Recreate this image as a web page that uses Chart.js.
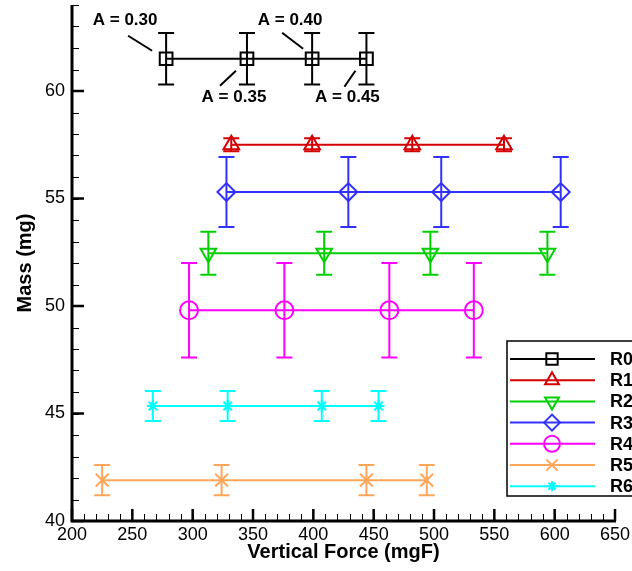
<!DOCTYPE html>
<html>
<head>
<meta charset="utf-8">
<script src="https://cdn.jsdelivr.net/npm/chart.js@4.4.1/dist/chart.umd.min.js"></script>
<style>
  html, body { margin: 0; padding: 0; background: #fff; overflow: hidden; }
  canvas { display: block; }
</style>
</head>
<body>
<canvas id="mass-chart" width="632" height="571"></canvas>
<script>
// Data
const seriesNames = ['R0', 'R1', 'R2', 'R3', 'R4', 'R5', 'R6'];
const r0Force = [278, 345, 399, 444];
const r1Force = [332, 399, 482, 558];
const r2Force = [313, 409, 497, 594];
const r3Force = [328, 429, 506, 605];
const r4Force = [297, 376, 463, 533];
const r5Force = [225, 324, 444, 494];
const r6Force = [267, 329, 407, 454];
const massValues = [61.5, 57.5, 52.45, 55.3, 49.8, 41.9, 45.35];   // mg, one per series
const massErrors = [1.2, 0.3, 1.0, 1.63, 2.2, 0.7, 0.7];           // +/- mg
const xTickValues = [200, 250, 300, 350, 400, 450, 500, 550, 600, 650];
const yTickValues = [40, 45, 50, 55, 60];
const angleLabels = ['A = 0.30', 'A = 0.35', 'A = 0.40', 'A = 0.45'];

const forces = [r0Force, r1Force, r2Force, r3Force, r4Force, r5Force, r6Force];

// look of each series
const seriesColors = ['#000000', '#d40000', '#00d000', '#3232ff', '#ff00ff', '#ffa65a', '#00ffff'];
const seriesMarkers = [
    { style: 'rect', rotation: 0, radius: 9 },
    { style: 'triangle', rotation: 0, radius: 9 },
    { style: 'triangle', rotation: 180, radius: 9 },
    { style: 'rectRot', rotation: 0, radius: 9 },
    { style: 'circle', rotation: 0, radius: 9 },
    { style: 'crossRot', rotation: 0, radius: 9 },
    { style: 'star', rotation: 0, radius: 6 }
];

const FONT = "'Liberation Sans', Arial, Helvetica, sans-serif";
Chart.defaults.font.family = FONT;
Chart.defaults.color = '#000';

const datasets = seriesNames.map((name, i) => ({
    label: name,
    data: forces[i].map(f => ({ x: f, y: massValues[i], err: massErrors[i] })),
    showLine: true,
    borderColor: seriesColors[i],
    borderWidth: 2,
    pointStyle: seriesMarkers[i].style,
    rotation: seriesMarkers[i].rotation,
    pointRadius: seriesMarkers[i].radius,
    pointBorderWidth: 2,
    pointBorderColor: seriesColors[i],
    pointBackgroundColor: 'rgba(0,0,0,0)'
}));

// vertical error bars with caps
const errorBars = {
    id: 'errorBars',
    afterDatasetsDraw(chart) {
        const ctx = chart.ctx;
        const xs = chart.scales.x, ys = chart.scales.y;
        chart.data.datasets.forEach(ds => {
            ctx.save();
            ctx.strokeStyle = ds.borderColor;
            ctx.lineWidth = 2;
            ds.data.forEach(pt => {
                const px = xs.getPixelForValue(pt.x);
                const top = ys.getPixelForValue(pt.y + pt.err);
                const bot = ys.getPixelForValue(pt.y - pt.err);
                ctx.beginPath();
                ctx.moveTo(px, top); ctx.lineTo(px, bot);
                ctx.moveTo(px - 8, top); ctx.lineTo(px + 8, top);
                ctx.moveTo(px - 8, bot); ctx.lineTo(px + 8, bot);
                ctx.stroke();
            });
            ctx.restore();
        });
    }
};

// axis lines with inward ticks (tecplot style)
const frameAxes = {
    id: 'frameAxes',
    afterDatasetsDraw(chart) {
        const ctx = chart.ctx;
        const xs = chart.scales.x, ys = chart.scales.y;
        const { left, right, top, bottom } = chart.chartArea;
        ctx.save();
        ctx.strokeStyle = '#000';
        // minor ticks
        ctx.lineWidth = 1;
        ctx.beginPath();
        for (let v = xs.min; v <= xs.max; v += 10) {
            const px = Math.round(xs.getPixelForValue(v)) + 0.5;
            ctx.moveTo(px, bottom); ctx.lineTo(px, bottom - 7);
        }
        for (let v = ys.min; v <= ys.max; v += 1) {
            const py = Math.round(ys.getPixelForValue(v)) + 0.5;
            ctx.moveTo(left, py); ctx.lineTo(left + 7, py);
        }
        ctx.stroke();
        // major ticks
        ctx.lineWidth = 2.5;
        ctx.beginPath();
        xTickValues.forEach(v => {
            const px = xs.getPixelForValue(v);
            ctx.moveTo(px, bottom); ctx.lineTo(px, bottom - 12);
        });
        yTickValues.forEach(v => {
            const py = ys.getPixelForValue(v);
            ctx.moveTo(left, py); ctx.lineTo(left + 12, py);
        });
        ctx.stroke();
        // axis lines
        ctx.lineWidth = 3;
        ctx.beginPath();
        ctx.moveTo(left, top); ctx.lineTo(left, bottom);
        ctx.lineTo(right + 1, bottom);
        ctx.stroke();
        ctx.restore();
    }
};

// "A = ..." callouts hung on the R0 points
const calloutOffsets = [
    { tx: -41, ty: -38, x1: -38, y1: -23, x2: -14, y2: -8 },
    { tx: -13, ty: 39, x1: -27, y1: 27, x2: -11, y2: 12 },
    { tx: -22, ty: -38, x1: -30, y1: -26, x2: -9, y2: -10 },
    { tx: -19, ty: 39, x1: -22, y1: 28, x2: -11, y2: 12 }
];
const callouts = {
    id: 'callouts',
    afterDatasetsDraw(chart) {
        const ctx = chart.ctx;
        const xs = chart.scales.x, ys = chart.scales.y;
        ctx.save();
        ctx.fillStyle = '#000';
        ctx.strokeStyle = '#000';
        ctx.lineWidth = 2;
        ctx.font = 'bold 17px ' + FONT;
        ctx.textAlign = 'center';
        ctx.textBaseline = 'middle';
        angleLabels.forEach((txt, i) => {
            const px = xs.getPixelForValue(r0Force[i]);
            const py = ys.getPixelForValue(massValues[0]);
            const o = calloutOffsets[i];
            ctx.fillText(txt, px + o.tx, py + o.ty);
            ctx.beginPath();
            ctx.moveTo(px + o.x1, py + o.y1);
            ctx.lineTo(px + o.x2, py + o.y2);
            ctx.stroke();
        });
        ctx.restore();
    }
};

// boxed legend sitting over the lower right, running off the canvas edge
const boxLegend = {
    id: 'boxLegend',
    afterDraw(chart) {
        const ctx = chart.ctx;
        const boxX = 507, boxY = 341, rowY0 = 359, rowStep = 21.2;
        ctx.save();
        ctx.fillStyle = '#fff';
        ctx.fillRect(boxX, boxY, 200, 155);
        ctx.strokeStyle = '#000';
        ctx.lineWidth = 1.5;
        ctx.strokeRect(boxX, boxY, 200, 155);
        ctx.font = 'bold 18px ' + FONT;
        ctx.textBaseline = 'middle';
        ctx.textAlign = 'left';
        chart.data.datasets.forEach((ds, i) => {
            const y = rowY0 + i * rowStep;
            ctx.strokeStyle = ds.borderColor;
            ctx.lineWidth = 2;
            ctx.beginPath();
            ctx.moveTo(510, y); ctx.lineTo(595, y);
            ctx.stroke();
            ctx.fillStyle = 'rgba(0,0,0,0)';
            Chart.helpers.drawPoint(ctx, {
                pointStyle: ds.pointStyle,
                rotation: ds.rotation,
                radius: ds.pointRadius - 1,
                borderWidth: 2
            }, 552, y);
            ctx.fillStyle = '#000';
            ctx.fillText(ds.label, 610, y + 1);
        });
        ctx.restore();
    }
};

const ctx = document.getElementById('mass-chart').getContext('2d');
const massChart = new Chart(ctx, {
    type: 'scatter',
    data: { datasets: datasets },
    options: {
        responsive: false,
        animation: false,
        events: [],
        layout: { autoPadding: false, padding: { top: 5, right: 17, left: 0, bottom: 0 } },
        plugins: {
            legend: { display: false },
            tooltip: { enabled: false }
        },
        scales: {
            x: {
                type: 'linear',
                min: 200,
                max: 650,
                afterBuildTicks: scale => { scale.ticks = xTickValues.map(v => ({ value: v })); },
                afterFit: scale => {
                    scale.height = 50;
                    scale.paddingLeft = 0; scale.paddingRight = 0;
                    scale.paddingTop = 0; scale.paddingBottom = 0;
                },
                grid: { display: false, drawTicks: false },
                border: { display: false },
                ticks: { font: { size: 18 }, color: '#000', padding: 3, maxRotation: 0, autoSkip: false },
                title: {
                    display: true,
                    text: 'Vertical Force (mgF)',
                    font: { size: 20, weight: 'bold' },
                    color: '#000',
                    padding: { top: 0, bottom: 7 }
                }
            },
            y: {
                type: 'linear',
                min: 40,
                max: 64,
                afterBuildTicks: scale => { scale.ticks = yTickValues.map(v => ({ value: v })); },
                afterFit: scale => {
                    scale.width = 72;
                    scale.paddingLeft = 0; scale.paddingRight = 0;
                    scale.paddingTop = 0; scale.paddingBottom = 0;
                },
                grid: { display: false, drawTicks: false },
                border: { display: false },
                ticks: { font: { size: 18 }, color: '#000', padding: 7, autoSkip: false },
                title: {
                    display: true,
                    text: 'Mass (mg)',
                    font: { size: 20, weight: 'bold' },
                    color: '#000',
                    padding: { top: 13, bottom: 0 }
                }
            }
        }
    },
    plugins: [errorBars, frameAxes, callouts, boxLegend]
});
</script>
</body>
</html>
